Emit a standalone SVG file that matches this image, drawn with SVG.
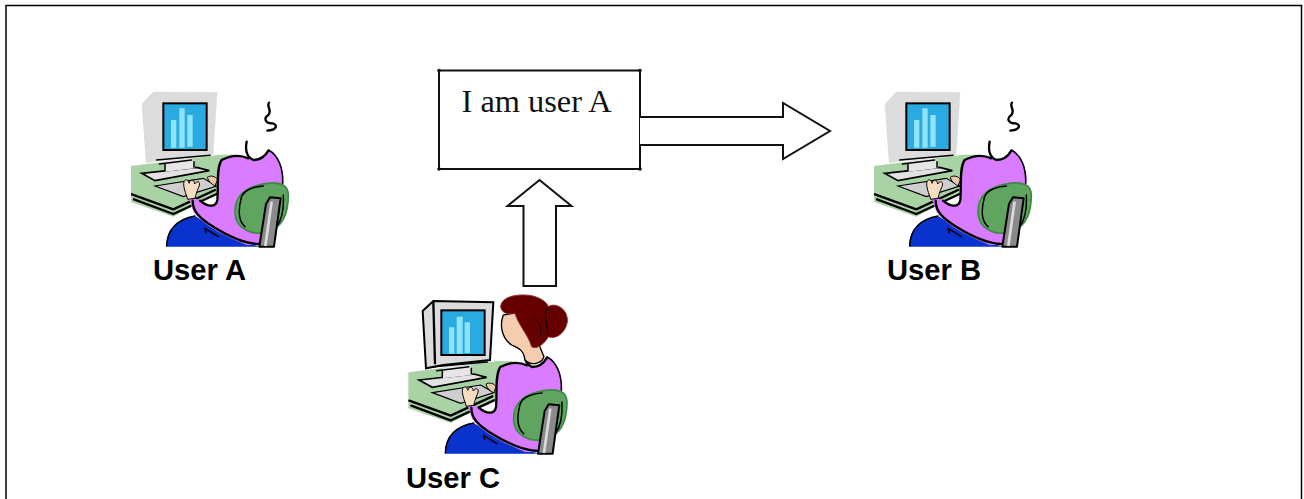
<svg xmlns="http://www.w3.org/2000/svg" width="1304" height="499" viewBox="0 0 1304 499">
<style>
.lbl{font:bold 29.2px "Liberation Sans",Arial,sans-serif;fill:#000}
.txt{font:32.4px "Liberation Serif","Times New Roman",serif;fill:#111}
.shape{fill:#fff;stroke:#111;stroke-width:2;stroke-linejoin:miter}
.ink{fill:none;stroke:#000;stroke-width:7;stroke-linecap:round;stroke-linejoin:round}
.thin{fill:none;stroke:#000;stroke-width:4.500;stroke-linecap:round;stroke-linejoin:round}
.dot{fill:#111}
</style>
<defs>
<g id="desk">
<path d="M33 258L300 224L345 224L300 335L160 410L33 366Z" fill="#a9d3a5"/>
<path d="M36 343L160 388L285 330M42 358L160 402L290 342" class="ink"/>
</g>
<g id="lower">
<path d="M140 500C136 455 165 420 225 408L330 470L420 500Z" fill="#0a32cc"/>
<path d="M225 408C170 418 142 450 140 498M258 458L255 445L295 470" class="thin"/>
<path d="M305 240C340 222 375 228 400 240C420 240 440 225 447 208C475 225 495 265 490 320L420 495L380 495C320 470 255 440 220 395L205 350L240 360C260 375 285 385 290 370C295 350 295 280 305 240Z" fill="#d97cff"/>
<path d="M380 185C376 205 378 230 400 240C420 240 436 228 445 212M305 240C340 222 365 226 385 235M305 240C288 265 296 320 292 360C288 385 262 380 240 362M218 362C218 395 240 415 280 440C320 465 370 490 415 492" class="ink"/>
<path d="M445 210C475 225 490 265 488 310" class="thin"/>
<path d="M345 395C345 350 370 320 440 310C480 305 505 315 505 345C505 400 490 440 445 455C395 470 345 445 345 395Z" fill="#5fa55f" stroke="#3d8a45" stroke-width="5"/>
<path d="M365 350C355 385 352 420 375 440M430 318C385 322 365 340 362 360M490 345C492 385 485 420 470 440" class="thin"/>
<path d="M438 372L450 352L482 355L462 500L418 500Z" fill="#8a8a8a" stroke="#000" stroke-width="6" stroke-linejoin="round"/>
<path d="M455 365L436 498" stroke="#dcdcdc" stroke-width="8"/>
<path d="M192 305C197 295 205 300 207 310C212 296 222 298 224 312C232 300 244 305 236 322C230 335 228 345 225 355L203 358C198 340 188 320 192 305Z" fill="#f6dcc0" stroke="#000" stroke-width="3"/>
<path d="M262 292C270 285 288 288 292 300L285 318C275 312 265 305 262 292Z" fill="#e6c9a8" stroke="#000" stroke-width="3"/>
</g>
<g id="keyboard">
<path d="M105 318L250 295L290 318L190 350Z" fill="#cfcfcf" stroke="#000" stroke-width="3.500"/>
<path d="M65 280L230 262L268 272L105 302Z" fill="#e2e2e2" stroke="#000" stroke-width="5"/>
<path d="M135 240L135 275L225 265L220 235Z" fill="#e6e6e6"/>
<path d="M110 240L270 226M118 252L215 240M135 252L135 272M222 245L222 262" class="thin"/>
</g>
<g id="plain">
<use href="#desk"/>
<path d="M65 72L100 35L292 37L280 225L140 240L78 250Z" fill="#dcdcdc"/>
<use href="#keyboard"/>
<rect x="130" y="70" width="130" height="140" fill="#29abe2" stroke="#000" stroke-width="6"/>
<path d="M153 120H169V203H153ZM178 85H194V203H178ZM202 105H218V200H202Z" fill="#8fe3fb"/>
<use href="#lower"/>
<path d="M447 68C438 80 458 90 445 105C430 115 435 130 458 130C475 135 470 150 442 152" fill="none" stroke="#000" stroke-width="7" stroke-linecap="round"/>
</g>
<g id="lady">
<g transform="translate(-8 4)"><use href="#desk"/></g>
<path d="M68 78L100 48L280 52L270 225L130 240L78 250Z" fill="#dcdcdc" stroke="#000" stroke-width="6"/>
<path d="M100 50L105 235" class="ink"/>
<g transform="translate(-8 5)"><use href="#keyboard"/></g>
<rect x="124" y="76" width="130" height="134" fill="#29abe2" stroke="#000" stroke-width="6"/>
<path d="M147 127H163V206H147ZM170 95H188V206H170ZM194 112H210V204H194Z" fill="#8fe3fb"/>
<g transform="translate(-4 6)"><use href="#lower"/></g>
<path d="M310 90C298 120 305 160 335 180C355 190 372 195 375 225C395 245 425 235 432 215L405 150L365 80Z" fill="#f4cdb0" stroke="#000" stroke-width="4"/>
<path d="M302 65C305 35 350 25 395 32C420 38 440 50 445 65C470 50 505 75 502 110C498 140 470 165 445 155C435 175 410 195 395 185C385 150 355 120 345 85C325 90 305 85 302 65Z" fill="#660000" stroke="#8a2d2d" stroke-width="3"/>
<path d="M445 65C430 80 440 115 445 155M400 100C420 110 425 130 422 150" fill="none" stroke="#000" stroke-width="3"/>
</g>
</defs>

<g id="frame">
<path d="M6 499V5.500H1301.500V499" fill="none" stroke="#000" stroke-width="1.500"/>
</g>

<g id="user-a">
<use href="#plain" transform="translate(120 80) scale(.3333)"/>
<text class="lbl" x="153" y="280">User A</text>
</g>

<g id="user-b">
<use href="#plain" transform="translate(863 80) scale(.3333)"/>
<text class="lbl" x="887" y="280">User B</text>
</g>

<g id="user-c">
<use href="#lady" transform="translate(400 285) scale(.3333)"/>
<text class="lbl" x="406" y="488">User C</text>
</g>

<g id="message">
<rect class="shape" x="439" y="70.500" width="201" height="98.500"/>
<circle class="dot" cx="439" cy="70.500" r="1.800"/><circle class="dot" cx="640" cy="70.500" r="1.800"/><circle class="dot" cx="439" cy="169" r="1.800"/><circle class="dot" cx="640" cy="169" r="1.800"/>
<text class="txt" x="461.500" y="112">I am user A</text>
</g>

<g id="connectors">
<path class="shape" d="M640 117H783V103L830 131L783 159V145H640"/>
<path class="shape" d="M523.500 286V206H507.500L539.500 180L571.500 206H556V286Z"/>
</g>
</svg>
